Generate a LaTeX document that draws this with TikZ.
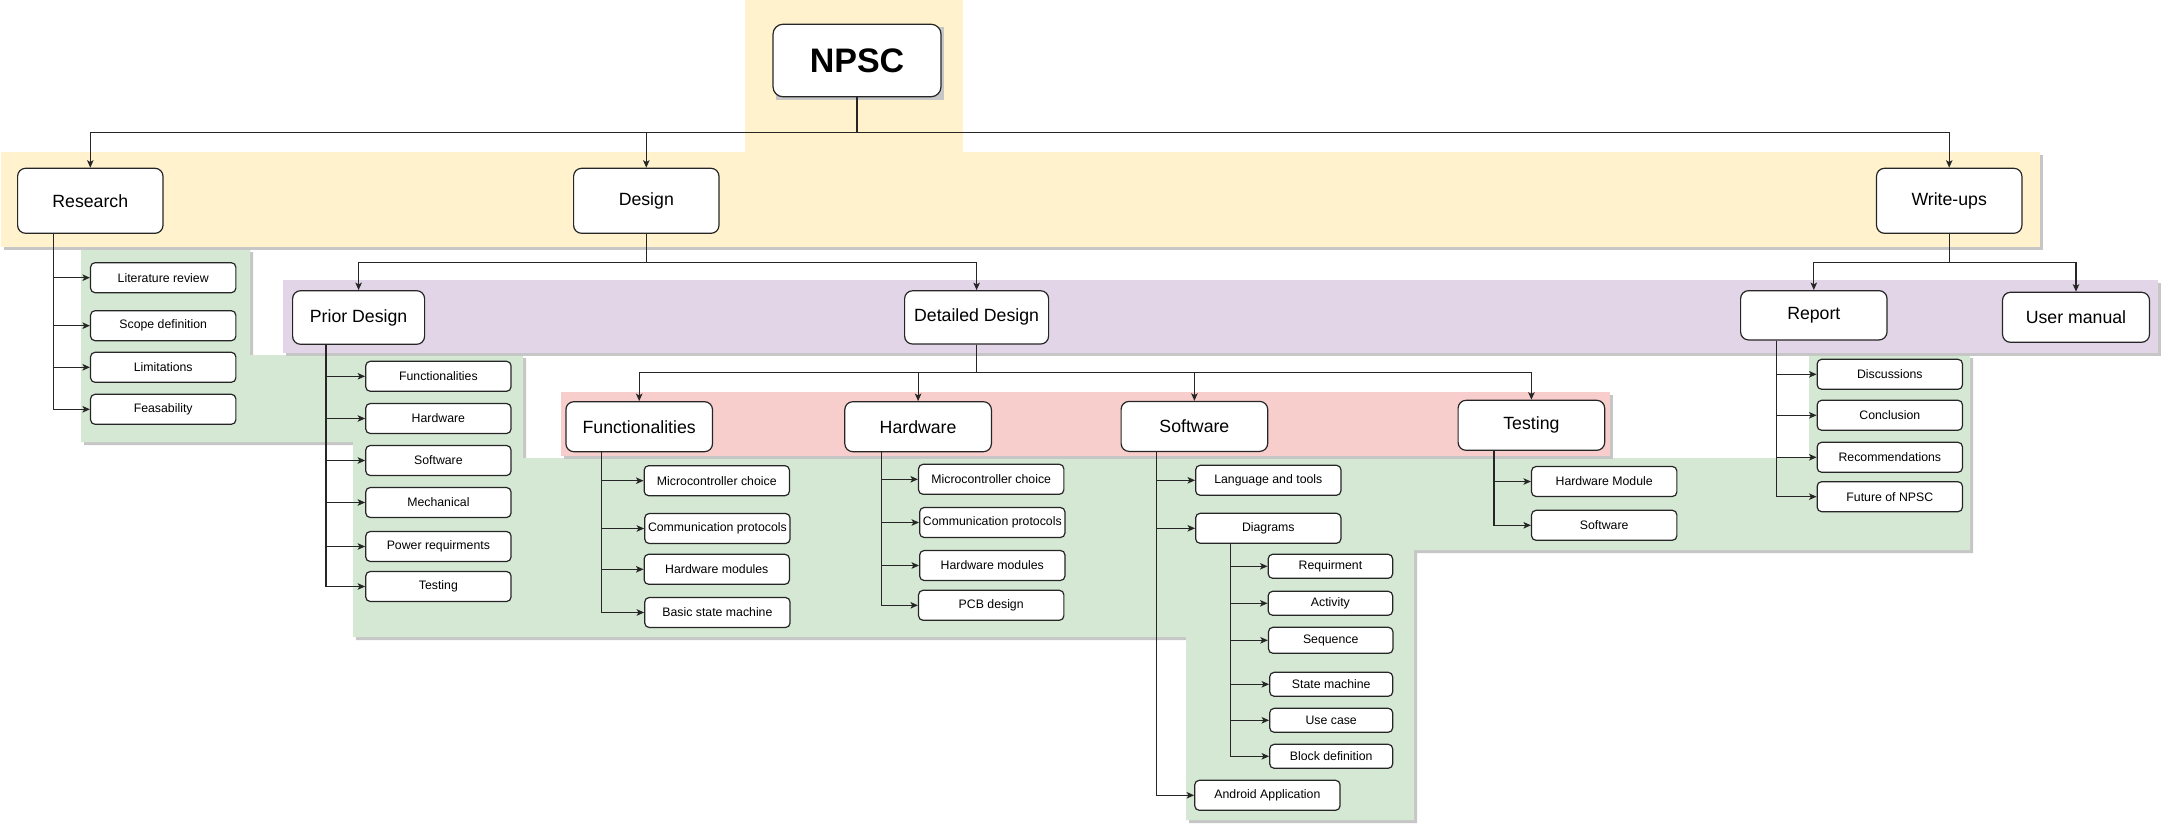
\documentclass[tikz,border=0pt]{standalone}
\usepackage{fontspec}
\setmainfont{Liberation Sans}
\usetikzlibrary{arrows.meta,calc}
\definecolor{bgyellow}{HTML}{FFF2CC}
\definecolor{bgpurple}{HTML}{E1D5E7}
\definecolor{bgred}{HTML}{F8CECC}
\definecolor{bggreen}{HTML}{D5E8D4}
\definecolor{shadowgray}{HTML}{C6C6C6}
\begin{document}
\begin{tikzpicture}[x=1pt,y=-1pt,
  box/.style={draw=black!85, line width=1.2pt, fill=white, rounded corners=8pt, inner sep=0pt, align=center},
  lvl/.style={box, font=\fontsize{17.7}{20}\selectfont},
  lone/.style={lvl, minimum width=145.4pt, minimum height=65pt},
  ltwo/.style={lvl, minimum width=146.6pt, minimum height=50pt},
  small/.style={box, rounded corners=4.5pt, font=\fontsize{12.3}{14}\selectfont},
  sbox/.style={small, minimum width=145.3pt, minimum height=30pt},
  dbox/.style={small, minimum width=124.5pt, minimum height=24pt},
  conn/.style={draw=black!85, line width=1.2pt},
  arr/.style={conn, -{Stealth[length=7.5pt,width=6.5pt,inset=1.8pt]}}
]
\useasboundingbox (0,0) rectangle (2163,824);

% ---------- backgrounds ----------
\foreach \d/\col in {3/shadowgray,0/bggreen}{
  \fill[\col, shift={(\d,\d)}] (81,249) -- (250,249) -- (250,355) -- (523,355) -- (523,458) -- (1809,458) -- (1809,355) -- (1970,355) -- (1970,550) -- (1414,550) -- (1414,820) -- (1186,820) -- (1186,637) -- (353,637) -- (353,442) -- (81,442) -- cycle;
}
\foreach \d/\col in {3/shadowgray,0/bgred}{
  \fill[\col, shift={(\d,\d)}] (561,392) rectangle (1610,456);
}
\foreach \d/\col in {3/shadowgray,0/bgpurple}{
  \fill[\col, shift={(\d,\d)}] (283,280) rectangle (2158,352.5);
}
\foreach \d/\col in {3/shadowgray,0/bgyellow}{
  \fill[\col, shift={(\d,\d)}] (1,152.5) rectangle (2040,246.5);
}
\fill[bgyellow] (745,0) rectangle (963,153);

% ---------- nodes ----------
\fill[shadowgray] (776,27) rectangle (944,100);
\node[box, rounded corners=10pt, minimum width=168pt, minimum height=72.5pt, font=\fontsize{34}{40}\selectfont\bfseries] (npsc) at (857,60.5) {NPSC};

\node[lone] (res) at (90.3,200.8) {Research};
\node[lone] (des) at (646.3,200.8) {Design};
\node[lone] (wri) at (1949.2,200.8) {Write-ups};

\node[lvl, minimum width=132pt, minimum height=53.6pt] (prior) at (358.6,317.5) {Prior Design};
\node[lvl, minimum width=144pt, minimum height=53.3pt] (det) at (976.6,317.4) {Detailed Design};
\node[lvl, minimum width=146.4pt, minimum height=49.3pt] (rep) at (1813.8,315.3) {Report};
\node[lvl, minimum width=147pt, minimum height=50pt] (um) at (2076,317.3) {User manual};

\node[ltwo] (fun) at (639.2,426.7) {Functionalities};
\node[ltwo] (hw) at (918.1,426.7) {Hardware};
\node[ltwo] (sw) at (1194.4,426.4) {Software};
\node[ltwo] (tst) at (1531.4,425.3) {Testing};

% research children
\node[sbox] (lit) at (163.2,277.7) {Literature review};
\node[sbox] (scope) at (163.2,325.7) {Scope definition};
\node[sbox] (lim) at (163.2,367.3) {Limitations};
\node[sbox] (feas) at (163.2,409.3) {Feasability};

% prior design children
\node[sbox] (pfun) at (438.4,376.3) {Functionalities};
\node[sbox] (phw) at (438.4,418.5) {Hardware};
\node[sbox] (psw) at (438.4,460.5) {Software};
\node[sbox] (pmech) at (438.4,502.5) {Mechanical};
\node[sbox] (ppow) at (438.4,546.5) {Power requirments};
\node[sbox] (ptest) at (438.4,586.5) {Testing};

% functionalities children
\node[sbox] (fmc) at (716.8,480.7) {Microcontroller choice};
\node[sbox] (fcp) at (717.4,528.5) {Communication protocols};
\node[sbox] (fhm) at (716.8,569.3) {Hardware modules};
\node[sbox] (fbsm) at (717.4,612.5) {Basic state machine};

% hardware children
\node[sbox] (hmc) at (991.2,479.3) {Microcontroller choice};
\node[sbox] (hcp) at (992.3,522.5) {Communication protocols};
\node[sbox] (hhm) at (992.3,565.5) {Hardware modules};
\node[sbox] (hpcb) at (991.2,605.3) {PCB design};

% software children
\node[sbox] (slt) at (1268.3,480.3) {Language and tools};
\node[sbox] (sdia) at (1268.3,528.3) {Diagrams};
\node[sbox] (sand) at (1267.4,795.3) {Android Application};

% diagrams children
\node[dbox] (dreq) at (1330.4,566.3) {Requirment};
\node[dbox] (dact) at (1330.4,603.3) {Activity};
\node[dbox, minimum height=26pt] (dseq) at (1330.7,640.3) {Sequence};
\node[dbox, minimum width=123pt] (dsm) at (1331.2,684.3) {State machine};
\node[dbox, minimum width=123pt] (duc) at (1331.2,720.3) {Use case};
\node[dbox, minimum width=123pt] (dbd) at (1331.2,756.3) {Block definition};

% testing children
\node[sbox] (thm) at (1604.2,481.5) {Hardware Module};
\node[sbox] (tsw) at (1604.2,525.3) {Software};

% report children
\node[sbox] (rdis) at (1889.8,374.3) {Discussions};
\node[sbox] (rcon) at (1889.8,415.3) {Conclusion};
\node[sbox] (rrec) at (1889.8,457.3) {Recommendations};
\node[sbox] (rfut) at (1889.8,496.7) {Future of NPSC};

% ---------- connectors ----------
\foreach \c in {res,des,wri}
  \draw[arr] (npsc.south) -- ++(0,35.3) -| (\c.north);
\foreach \c in {prior,det}
  \draw[arr] (des.south) -- ++(0,28.4) -| (\c.north);
\foreach \c in {rep,um}
  \draw[arr] (wri.south) -- ++(0,28.4) -| (\c.north);
\foreach \c in {fun,hw,sw,tst}
  \draw[arr] (det.south) -- ++(0,27.7) -| (\c.north);

\foreach \c in {lit,scope,lim,feas}
  \draw[arr] ([xshift=36.8pt]res.south west) |- (\c.west);
\foreach \c in {pfun,phw,psw,pmech,ppow,ptest}
  \draw[arr] ([xshift=33.9pt]prior.south west) |- (\c.west);
\foreach \c in {fmc,fcp,fhm,fbsm}
  \draw[arr] ([xshift=36.1pt]fun.south west) |- (\c.west);
\foreach \c in {hmc,hcp,hhm,hpcb}
  \draw[arr] ([xshift=37.2pt]hw.south west) |- (\c.west);
\foreach \c in {slt,sdia,sand}
  \draw[arr] ([xshift=36pt]sw.south west) |- (\c.west);
\foreach \c in {dreq,dact,dseq,dsm,duc,dbd}
  \draw[arr] ([xshift=35.8pt]sdia.south west) |- (\c.west);
\foreach \c in {thm,tsw}
  \draw[arr] ([xshift=36.5pt]tst.south west) |- (\c.west);
\foreach \c in {rdis,rcon,rrec,rfut}
  \draw[arr] ([xshift=36.7pt]rep.south west) |- (\c.west);
\end{tikzpicture}
\end{document}
